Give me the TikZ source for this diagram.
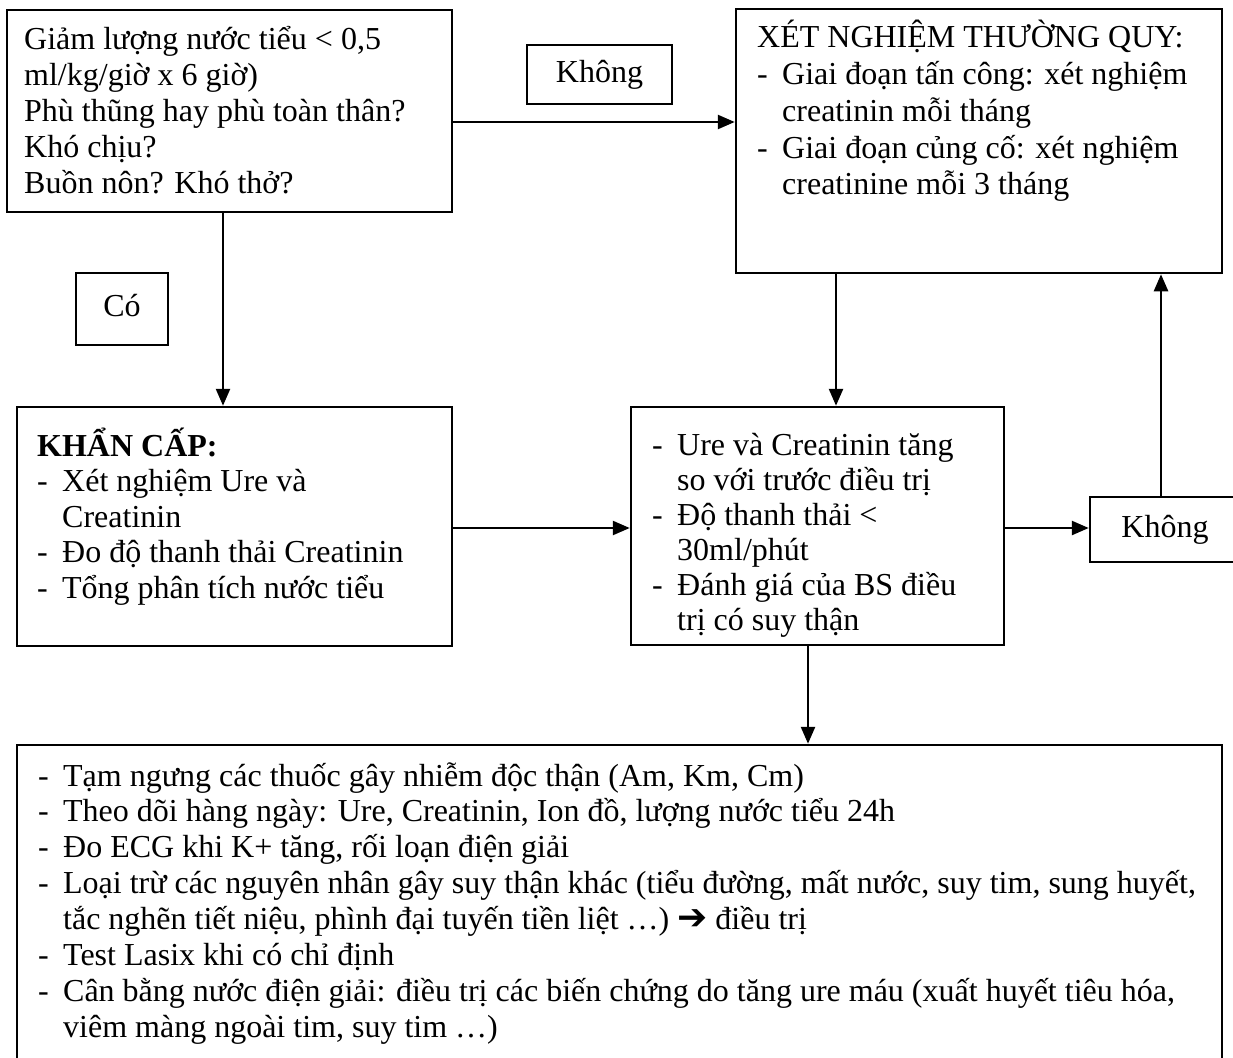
\documentclass[tikz,border=0pt]{standalone}
\usepackage{fontspec}
\setmainfont{Liberation Serif}
\newfontfamily\symfont{DejaVu Sans}
\usetikzlibrary{arrows.meta}

% list helpers: a hyphen bullet and the indent of a wrapped line
\newcommand{\dashitem}{\makebox[25pt][l]{-}}
\newcommand{\cont}{\hspace*{25pt}}

\tikzset{
  box/.style={draw, line width=2.5pt, rectangle, inner sep=0pt},
  tag/.style={box, font=\fontsize{32}{36}\selectfont, text height=22pt, text depth=7pt},
  txt/.style={anchor=base west, inner sep=0pt, font=\fontsize{32}{36}\selectfont},
  arr/.style={line width=2.5pt, -{Triangle[length=17pt,width=14pt]}},
}

\begin{document}
\begin{tikzpicture}[x=1pt,y=-1pt]
\useasboundingbox (0,0) rectangle (1233,1057);

% boxes
\node[box, minimum width=445pt, minimum height=202pt] (symptoms) at (229.5,111) {};
\node[tag, minimum width=145pt, minimum height=59pt] (noTop) at (599.5,74.5) {Không};
\node[box, minimum width=486pt, minimum height=264pt] (routine) at (979,141) {};
\node[tag, minimum width=92pt, minimum height=72pt] (yes) at (122,309) {Có};
\node[box, minimum width=435pt, minimum height=239pt] (urgent) at (234.5,526.5) {};
\node[box, minimum width=373pt, minimum height=238pt] (eval) at (817.5,526) {};
\node[tag, minimum width=150pt, minimum height=65pt] (noRight) at (1165,529.5) {Không};
\node[box, minimum width=1205pt, minimum height=335pt] (actions) at (619.5,912.5) {};

% box texts
\node[txt] (symptomsText) at (24,49) {\parbox[t]{420pt}{\raggedright
Giảm lượng nước tiểu < 0,5\\
ml/kg/giờ x 6 giờ)\\
Phù thũng hay phù toàn thân?\\
Khó chịu?\\
Buồn nôn? Khó thở?}};

\node[txt, font=\fontsize{32}{36.7}\selectfont] (routineText) at (757,48) {\parbox[t]{460pt}{\raggedright
XÉT NGHIỆM THƯỜNG QUY:\\
\dashitem Giai đoạn tấn công: xét nghiệm\\
\cont creatinin mỗi tháng\\
\dashitem Giai đoạn củng cố: xét nghiệm\\
\cont creatinine mỗi 3 tháng}};

\node[txt, font=\fontsize{32}{35.5}\selectfont] (urgentText) at (37,456) {\parbox[t]{410pt}{\raggedright
\textbf{KHẨN CẤP:}\\
\dashitem Xét nghiệm Ure và\\
\cont Creatinin\\
\dashitem Đo độ thanh thải Creatinin\\
\dashitem Tổng phân tích nước tiểu}};

\node[txt, font=\fontsize{32}{35}\selectfont] (evalText) at (652,455) {\parbox[t]{350pt}{\raggedright
\dashitem Ure và Creatinin tăng\\
\cont so với trước điều trị\\
\dashitem Độ thanh thải <\\
\cont 30ml/phút\\
\dashitem Đánh giá của BS điều\\
\cont trị có suy thận}};

\node[txt, font=\fontsize{32}{35.9}\selectfont] (actionsText) at (38,786) {\parbox[t]{1180pt}{\raggedright
\dashitem Tạm ngưng các thuốc gây nhiễm độc thận (Am, Km, Cm)\\
\dashitem Theo dõi hàng ngày: Ure, Creatinin, Ion đồ, lượng nước tiểu 24h\\
\dashitem Đo ECG khi K+ tăng, rối loạn điện giải\\
\dashitem Loại trừ các nguyên nhân gây suy thận khác (tiểu đường, mất nước, suy tim, sung huyết,\\
\cont tắc nghẽn tiết niệu, phình đại tuyến tiền liệt …) {\symfont\fontsize{36}{36}\selectfont ➔} điều trị\\
\dashitem Test Lasix khi có chỉ định\\
\dashitem Cân bằng nước điện giải: điều trị các biến chứng do tăng ure máu (xuất huyết tiêu hóa,\\
\cont viêm màng ngoài tim, suy tim …)}};

% connectors
\draw[arr] (223,0 |- symptoms.south) -- (223,0 |- urgent.north);
\draw[arr] (symptoms.east |- 0,122) -- (routine.west |- 0,122);
\draw[arr] (urgent.east |- 0,528) -- (eval.west |- 0,528);
\draw[arr] (836,0 |- routine.south) -- (836,0 |- eval.north);
\draw[arr] (eval.east |- 0,528) -- (noRight.west |- 0,528);
\draw[arr] (1161,0 |- noRight.north) -- (1161,0 |- routine.south);
\draw[arr] (808,0 |- eval.south) -- (808,0 |- actions.north);
\end{tikzpicture}
\end{document}
